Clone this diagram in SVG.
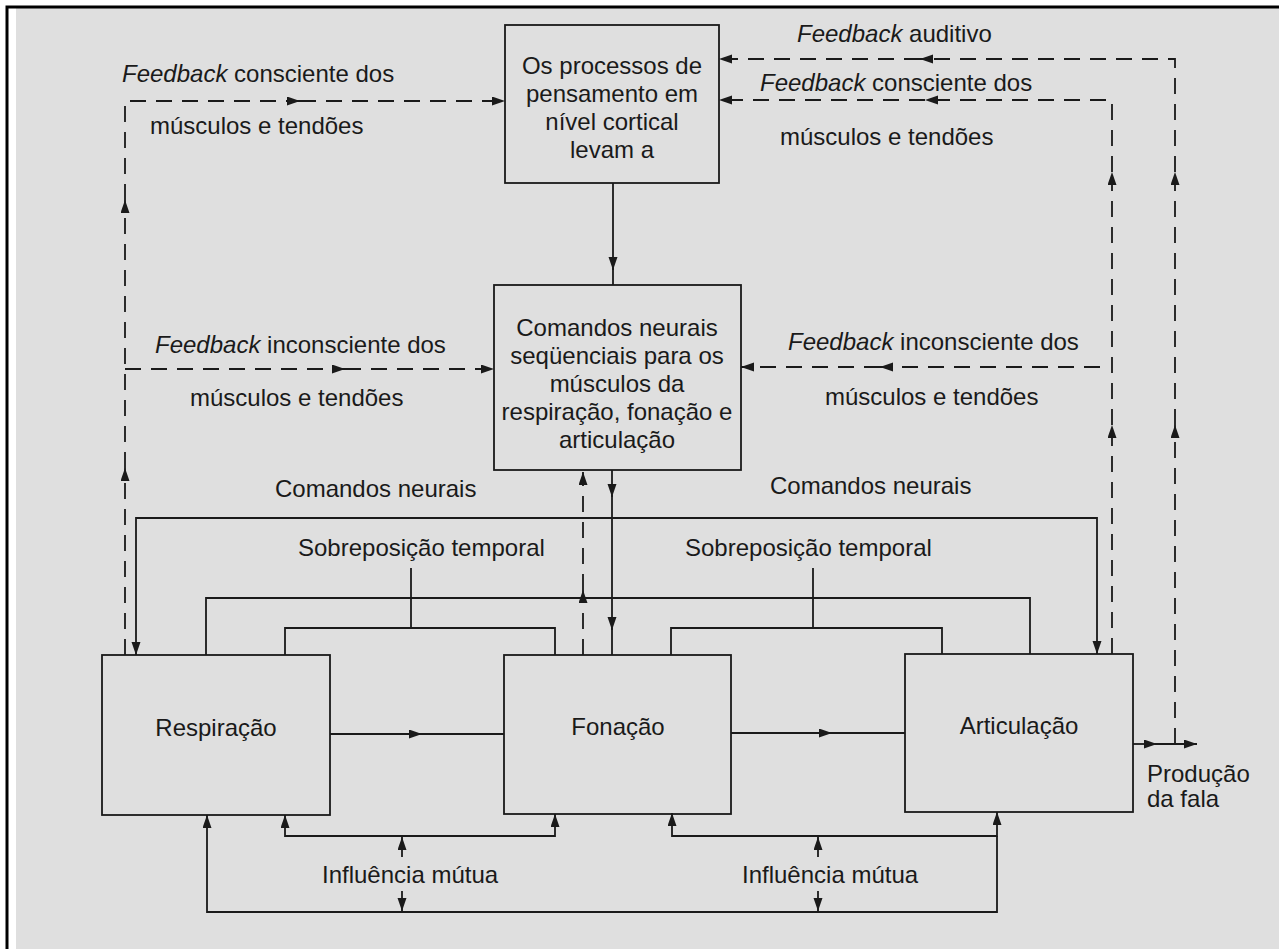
<svg xmlns="http://www.w3.org/2000/svg" width="1279" height="949" viewBox="0 0 1279 949">
<defs>
<style>
text{font-family:"Liberation Sans",Arial,sans-serif;font-size:24px;fill:#1a1a1a}
.c{text-anchor:middle}
.box{fill:none;stroke:#1a1a1a;stroke-width:1.8}
.s{fill:none;stroke:#1a1a1a;stroke-width:1.8}
.d{fill:none;stroke:#1a1a1a;stroke-width:1.8;stroke-dasharray:16 10}
.a{marker-end:url(#ah)}
</style>
<marker id="ah" markerUnits="userSpaceOnUse" markerWidth="14" markerHeight="10" refX="13" refY="4.5" orient="auto">
<path d="M0,0 L13,4.5 L0,9 z" fill="#1a1a1a"/>
</marker>
</defs>
<rect x="0" y="0" width="1279" height="949" fill="#ffffff"/>
<rect x="16" y="8" width="1263" height="941" fill="#dfdfdf"/>
<path d="M7,949 V7 H1279" fill="none" stroke="#000" stroke-width="3"/>

<g id="node-pensamento">
<rect class="box" x="505" y="25" width="214" height="158"/>
<text class="c" x="612" y="74">Os processos de</text>
<text class="c" x="612" y="102">pensamento em</text>
<text class="c" x="612" y="130">nível cortical</text>
<text class="c" x="612" y="158">levam a</text>
</g>
<g id="node-comandos">
<rect class="box" x="494" y="285" width="247" height="185"/>
<text class="c" x="617" y="336">Comandos neurais</text>
<text class="c" x="617" y="364">seqüenciais para os</text>
<text class="c" x="617" y="392">músculos da</text>
<text class="c" x="617" y="420">respiração, fonação e</text>
<text class="c" x="617" y="448">articulação</text>
</g>
<g id="node-respiracao">
<rect class="box" x="102" y="655" width="228" height="160"/>
<text class="c" x="216" y="736">Respiração</text>
</g>
<g id="node-fonacao">
<rect class="box" x="504" y="655" width="227" height="159"/>
<text class="c" x="618" y="735">Fonação</text>
</g>
<g id="node-articulacao">
<rect class="box" x="905" y="654" width="228" height="158"/>
<text class="c" x="1019" y="734">Articulação</text>
</g>

<g id="labels">
<text x="797" y="42"><tspan font-style="italic">Feedback</tspan> auditivo</text>
<text x="760" y="91"><tspan font-style="italic">Feedback</tspan> consciente dos</text>
<text x="780" y="145">músculos e tendões</text>
<text x="122" y="82"><tspan font-style="italic">Feedback</tspan> consciente dos</text>
<text x="150" y="134">músculos e tendões</text>
<text x="155" y="353"><tspan font-style="italic">Feedback</tspan> inconsciente dos</text>
<text x="190" y="406">músculos e tendões</text>
<text x="788" y="350"><tspan font-style="italic">Feedback</tspan> inconsciente dos</text>
<text x="825" y="405">músculos e tendões</text>
<text x="275" y="497">Comandos neurais</text>
<text x="770" y="494">Comandos neurais</text>
<text x="298" y="556">Sobreposição temporal</text>
<text x="685" y="556">Sobreposição temporal</text>
<text x="322" y="883">Influência mútua</text>
<text x="742" y="883">Influência mútua</text>
<text x="1147" y="782">Produção</text>
<text x="1147" y="807">da fala</text>
</g>

<g id="connectors">
<path class="d a" d="M1175,744 V425"/>
<path class="d a" d="M1175,425 V172"/>
<path class="d a" d="M1175,172 V59 H920"/>
<path class="d a" d="M920,59 H719"/>
<path class="d a" d="M1112,654 V425"/>
<path class="d a" d="M1112,425 V172"/>
<path class="d a" d="M1112,172 V100 H925"/>
<path class="d a" d="M925,100 H719"/>
<path class="d a" d="M125,655 V468"/>
<path class="d a" d="M125,468 V200"/>
<path class="d a" d="M125,200 V101 H300"/>
<path class="d a" d="M300,101 H505"/>
<path class="d a" d="M125,369 H345"/>
<path class="d a" d="M345,369 H494"/>
<path class="d a" d="M1100,367 H880"/>
<path class="d a" d="M880,367 H741"/>
<path class="s a" d="M613,183 V270"/>
<path class="s" d="M613,268 V285"/>
<path class="s a" d="M612,470 V497"/>
<path class="s a" d="M612,495 V630"/>
<path class="s" d="M612,628 V655"/>
<path class="d a" d="M583,655 V590"/>
<path class="d a" d="M583,590 V472"/>
<path class="s a" d="M612,518 H136 V655"/>
<path class="s a" d="M612,518 H1097 V654"/>
<path class="s" d="M206,655 V598 H1030 V654"/>
<path class="s" d="M285,655 V628 H555 V655"/>
<path class="s" d="M411,568 V628"/>
<path class="s" d="M671,655 V628 H942 V654"/>
<path class="s" d="M813,568 V628"/>
<path class="s a" d="M330,734 H422"/>
<path class="s" d="M420,734 H504"/>
<path class="s a" d="M731,733 H832"/>
<path class="s" d="M830,733 H905"/>
<path class="s a" d="M1133,744 H1157"/>
<path class="s a" d="M1155,744 H1197"/>
<path class="s a" d="M420,836 H285 V815"/>
<path class="s a" d="M420,836 H555 V814"/>
<path class="s a" d="M402,857 V837"/>
<path class="s a" d="M402,891 V911"/>
<path class="s a" d="M600,912 H207 V815"/>
<path class="s a" d="M818,836 H672 V813"/>
<path class="s a" d="M818,836 H997 V812"/>
<path class="s" d="M600,912 H997 V836"/>
<path class="s a" d="M818,857 V837"/>
<path class="s a" d="M818,891 V911"/>
</g>
</svg>
